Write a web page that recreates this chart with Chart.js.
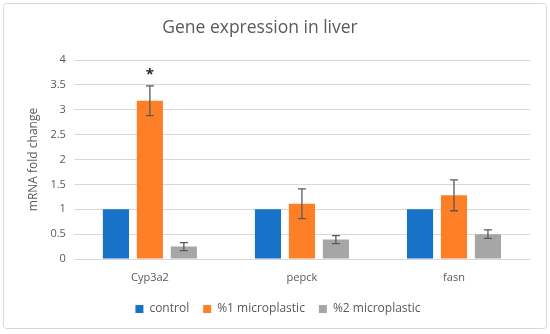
<!DOCTYPE html>
<html><head><meta charset="utf-8">
<script src="https://cdn.jsdelivr.net/npm/chart.js@4/dist/chart.umd.min.js"></script>
<style>html,body{margin:0;padding:0;background:#fff}#wrap{width:550px;height:334px;position:relative}</style>
</head><body><div id="wrap"><canvas id="c" width="550" height="334"></canvas></div>
<script>
const chartTitle = "Gene expression in liver";
const categories = ["Cyp3a2", "pepck", "fasn"];
const seriesNames = ["control", "%1 microplastic", "%2 microplastic"];
const controlVals = [1, 1, 1];
const mp1Vals = [3.18, 1.11, 1.28];
const mp2Vals = [0.25, 0.39, 0.50];
const controlErr = [0, 0, 0];
const mp1Err = [0.30, 0.30, 0.31];
const mp2Err = [0.08, 0.08, 0.085];
const significance = ["*", "", ""];
const sigLevel = [3.76, 0, 0];
const yTicks = [0, 0.5, 1, 1.5, 2, 2.5, 3, 3.5, 4];

const errs = [controlErr, mp1Err, mp2Err];
const FONT = "'Open Sans', 'Noto Sans', sans-serif";

const errorPlugin = {
  id: 'errbars',
  beforeDraw(chart) {
    const ctx = chart.ctx;
    ctx.save();
    ctx.strokeStyle = '#d9d9d9';
    ctx.lineWidth = 1;
    ctx.beginPath();
    ctx.roundRect(3.5, 3.5, 543, 325, 3);
    ctx.stroke();
    ctx.fillStyle = '#595959';
    ctx.font = "17.5px " + FONT;
    ctx.textAlign = 'center';
    ctx.textBaseline = 'middle';
    ctx.fillText(chartTitle, 260, 28);
    ctx.restore();
  },
  afterDatasetsDraw(chart) {
    const ctx = chart.ctx;
    const y = chart.scales.y;
    ctx.save();
    ctx.strokeStyle = '#595959';
    ctx.lineWidth = 1.3;
    chart.data.datasets.forEach((ds, di) => {
      const meta = chart.getDatasetMeta(di);
      meta.data.forEach((bar, i) => {
        const e = errs[di][i];
        if (!e) return;
        const v = ds.data[i];
        const yt = y.getPixelForValue(v + e);
        const yb = y.getPixelForValue(v - e);
        const x = bar.x;
        ctx.beginPath();
        ctx.moveTo(x, yt); ctx.lineTo(x, yb);
        ctx.moveTo(x - 4, yt); ctx.lineTo(x + 4, yt);
        ctx.moveTo(x - 4, yb); ctx.lineTo(x + 4, yb);
        ctx.stroke();
      });
    });
    const meta1 = chart.getDatasetMeta(1);
    ctx.fillStyle = '#262626';
    ctx.font = "bold 15px " + FONT;
    ctx.textAlign = 'center';
    ctx.textBaseline = 'middle';
    significance.forEach((s, i) => {
      if (!s) return;
      ctx.fillText(s, meta1.data[i].x, y.getPixelForValue(sigLevel[i]) + 3);
    });
    ctx.restore();
  }
};

new Chart(document.getElementById('c'), {
  type: 'bar',
  data: {
    labels: categories,
    datasets: [
      { label: seriesNames[0], data: controlVals, backgroundColor: '#1873c8' },
      { label: seriesNames[1], data: mp1Vals, backgroundColor: '#ff7f27' },
      { label: seriesNames[2], data: mp2Vals, backgroundColor: '#a6a6a6' }
    ]
  },
  options: {
    responsive: false,
    animation: false,
    devicePixelRatio: 1,
    layout: { padding: { left: 26, right: 20, top: 60, bottom: 9 } },
    datasets: { bar: { categoryPercentage: 0.67, barPercentage: 0.77 } },
    plugins: {
      title: { display: false },
      legend: { position: 'bottom', labels: { color: '#595959', boxWidth: 8, boxHeight: 8,
        font: { family: FONT, size: 12 }, padding: 14 } },
      tooltip: { enabled: false }
    },
    scales: {
      x: {
        grid: { display: false },
        border: { display: false },
        afterFit(axis) { axis.height = 30; },
        ticks: { color: '#595959', font: { family: FONT, size: 11 }, padding: 4 }
      },
      y: {
        min: 0, max: 4,
        afterBuildTicks(axis) { axis.ticks = yTicks.map(v => ({ value: v })); },
        grid: { color: '#d9d9d9', drawTicks: false },
        border: { display: false },
        ticks: { color: '#595959', font: { family: FONT, size: 11 }, padding: 8,
          callback: (v) => String(v) },
        title: { display: true, text: 'mRNA fold change', color: '#595959',
          font: { family: FONT, size: 12 }, padding: { top: 0, bottom: 2 } }
      }
    }
  },
  plugins: [errorPlugin]
});
</script></body></html>
